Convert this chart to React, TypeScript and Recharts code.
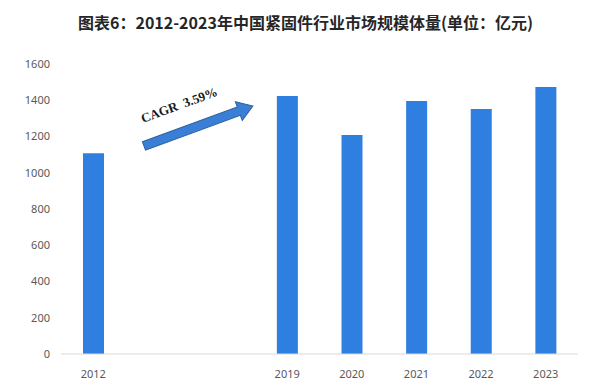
import React from "react";
import { BarChart, Bar, XAxis, YAxis } from "recharts";

const categories = ["2012", "", "", "2019", "2020", "2021", "2022", "2023"];
const marketSize: (number | null)[] = [1107, null, null, 1423, 1208, 1396, 1352, 1473];
const yTicks = [0, 200, 400, 600, 800, 1000, 1200, 1400, 1600];
const title = "图表6：2012-2023年中国紧固件行业市场规模体量(单位：亿元)";
const cagrLabel = "CAGR  3.59%";

const data = categories.map((c, i) => ({ year: c, value: marketSize[i] }));

export default function App() {
  return (
    <div
      style={{
        position: "fixed",
        left: 0,
        top: 0,
        width: 603,
        height: 387,
        background: "#fff",
        overflow: "hidden",
      }}
    >
      <div
        style={{
          position: "absolute",
          left: 0,
          top: 10,
          width: 603,
          textAlign: "center",
          fontFamily: "'Noto Sans CJK SC', sans-serif",
          fontWeight: 700,
          fontSize: 16,
          lineHeight: "24px",
          color: "#262626",
          paddingLeft: 4,
        }}
      >
        {title}
      </div>
      <BarChart
        width={603}
        height={387}
        data={data}
        margin={{ top: 64, right: 25, bottom: 3, left: 0 }}
        style={{ position: "absolute", left: 0, top: 0 }}
      >
        <YAxis
          width={61}
          domain={[0, 1600]}
          ticks={yTicks}
          axisLine={false}
          tickLine={false}
          tickSize={0}
          tickMargin={11}
          interval={0}
          tick={{ fill: "#595959", fontSize: 11, fontFamily: "'Noto Sans', sans-serif" }}
        />
        <XAxis
          dataKey="year"
          height={30}
          tickLine={false}
          axisLine={{ stroke: "#d9d9d9" }}
          tickMargin={10}
          interval={0}
          tick={{ fill: "#595959", fontSize: 11, fontFamily: "'Noto Sans', sans-serif" }}
        />
        <Bar dataKey="value" fill="#2F7FE0" barSize={21} isAnimationActive={false} />
      </BarChart>
      <svg
        width={603}
        height={387}
        style={{ position: "absolute", left: 0, top: 0, pointerEvents: "none" }}
      >
        <g transform="translate(144,146) rotate(-20.2)">
          <polygon
            points="0,-4.5 101,-4.5 101,-10 116,0 101,10 101,4.5 0,4.5"
            fill="#3A7FD6"
            stroke="#2C5E9E"
            strokeWidth={1}
          />
        </g>
        <text
          x={143}
          y={123}
          transform="rotate(-20.2 143 123)"
          fontFamily="'Liberation Serif', 'Times New Roman', serif"
          fontWeight={700}
          fontSize={13}
          fill="#1a1a1a"
          style={{ whiteSpace: "pre" }}
        >
          {cagrLabel}
        </text>
      </svg>
    </div>
  );
}
